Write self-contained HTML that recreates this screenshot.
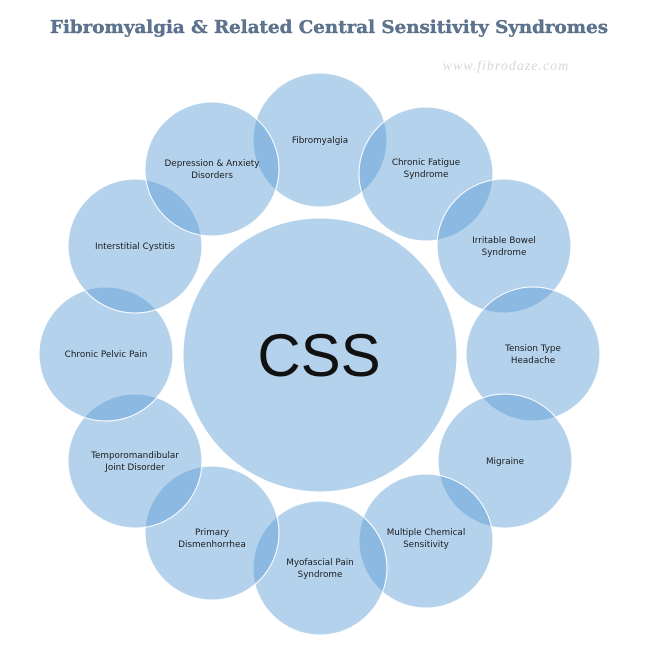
<!DOCTYPE html>
<html><head><style>
html,body{margin:0;padding:0;background:#fff;}
svg{display:block;}
</style></head><body>
<svg width="649" height="654" xmlns="http://www.w3.org/2000/svg">
<text x="329" y="33" text-anchor="middle" font-family="'DejaVu Serif','Liberation Serif',serif" font-weight="bold" font-size="18" fill="#5d7590" stroke="#3f5570" stroke-width="0.3" textLength="558" lengthAdjust="spacingAndGlyphs">Fibromyalgia &amp; Related Central Sensitivity Syndromes</text>
<text x="506" y="70" text-anchor="middle" font-family="'Liberation Serif',serif" font-style="italic" font-size="14" fill="#d8d8d8" letter-spacing="1">www.fibrodaze.com</text>
<g fill="#5b9bd5" fill-opacity="0.45" stroke="#fff" stroke-width="1">
<circle cx="320" cy="355" r="137"/>
<circle cx="320" cy="140" r="67"/>
<circle cx="426" cy="174" r="67"/>
<circle cx="504" cy="246" r="67"/>
<circle cx="533" cy="354" r="67"/>
<circle cx="505" cy="461" r="67"/>
<circle cx="426" cy="541" r="67"/>
<circle cx="320" cy="568" r="67"/>
<circle cx="212" cy="533" r="67"/>
<circle cx="135" cy="461" r="67"/>
<circle cx="106" cy="354" r="67"/>
<circle cx="135" cy="246" r="67"/>
<circle cx="212" cy="169" r="67"/>
</g>
<g font-family="'DejaVu Sans','Liberation Sans',sans-serif" font-size="8.8" fill="#1a1a1a" text-anchor="middle">
<text x="320" y="143">Fibromyalgia</text>
<text x="426" y="165">Chronic Fatigue</text><text x="426" y="177">Syndrome</text>
<text x="504" y="243">Irritable Bowel</text><text x="504" y="255">Syndrome</text>
<text x="533" y="351">Tension Type</text><text x="533" y="363">Headache</text>
<text x="505" y="464">Migraine</text>
<text x="426" y="535">Multiple Chemical</text><text x="426" y="547">Sensitivity</text>
<text x="320" y="565">Myofascial Pain</text><text x="320" y="577">Syndrome</text>
<text x="212" y="535">Primary</text><text x="212" y="547">Dismenhorrhea</text>
<text x="135" y="458">Temporomandibular</text><text x="135" y="470">Joint Disorder</text>
<text x="106" y="357">Chronic Pelvic Pain</text>
<text x="135" y="249">Interstitial Cystitis</text>
<text x="212" y="166">Depression &amp; Anxiety</text><text x="212" y="178">Disorders</text>
</g>
<text x="319" y="376" text-anchor="middle" font-family="'Liberation Sans',sans-serif" font-size="60" fill="#111">CSS</text>
</svg>
</body></html>
